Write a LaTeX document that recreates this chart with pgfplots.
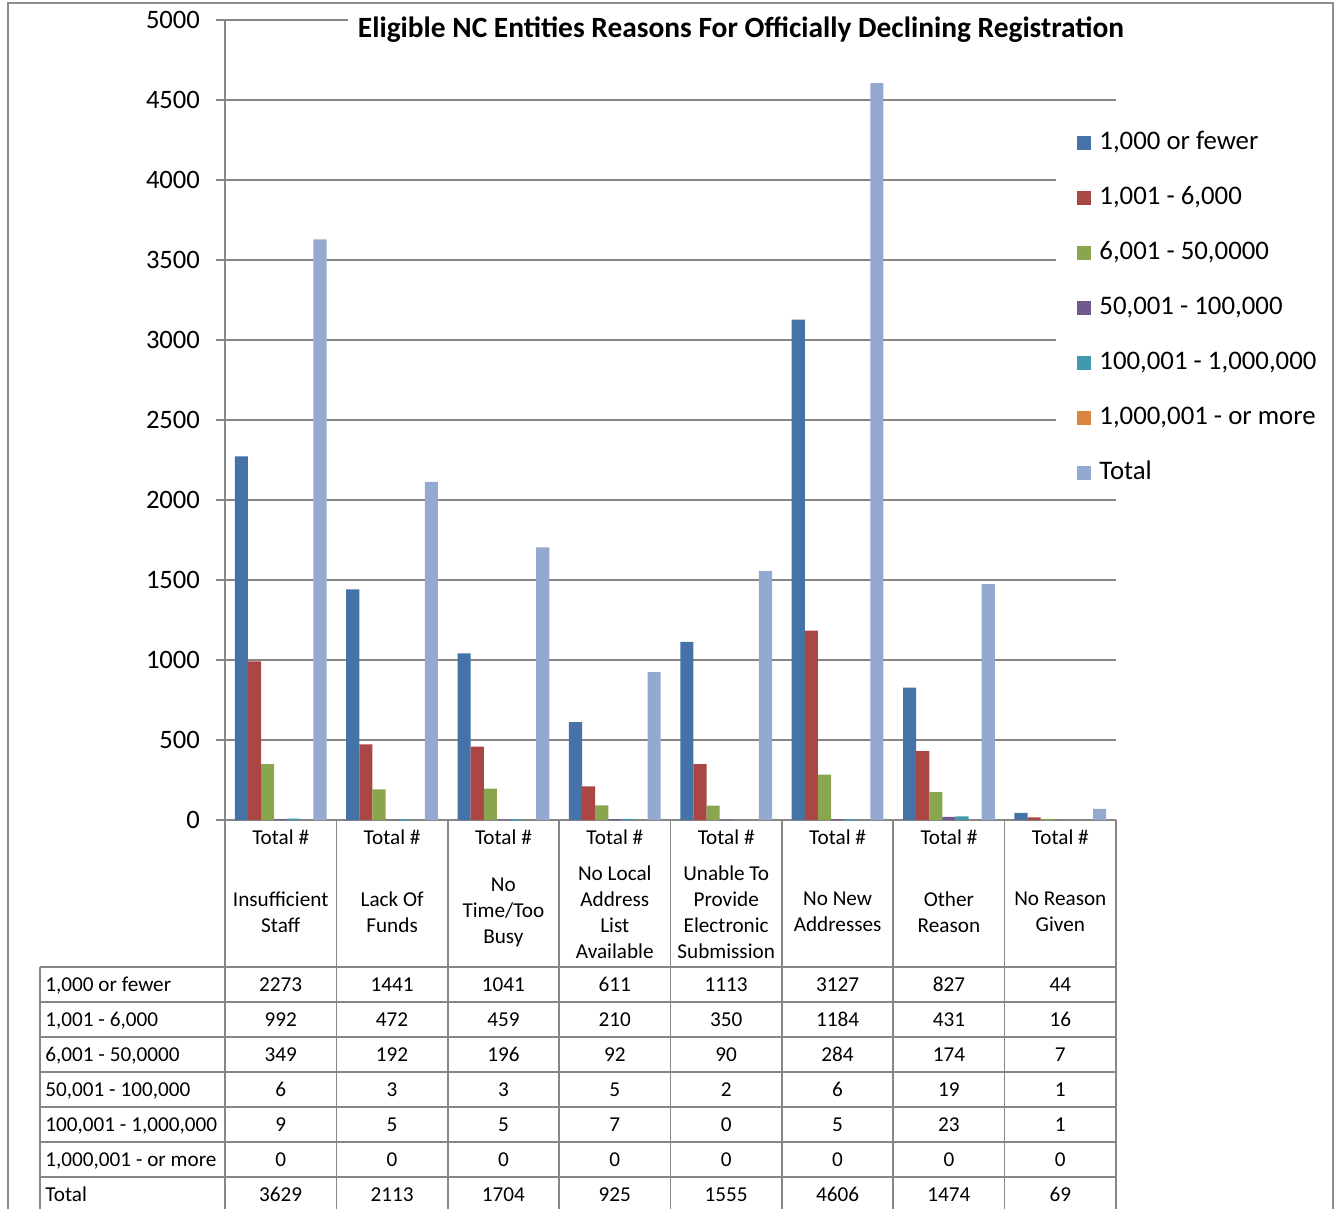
\documentclass[border=0pt]{standalone}
\usepackage{pgfplots}
\pgfplotsset{compat=1.18}
\usepackage{fontspec}
\setmainfont{Carlito}
\definecolor{cA}{HTML}{4572A7}
\definecolor{cB}{HTML}{AA4643}
\definecolor{cC}{HTML}{89A54E}
\definecolor{cD}{HTML}{71588F}
\definecolor{cE}{HTML}{4198AF}
\definecolor{cF}{HTML}{DB843D}
\definecolor{cG}{HTML}{93A9CF}
\definecolor{gridc}{HTML}{868686}
\definecolor{framec}{HTML}{8C8C8C}
\begin{document}
\begin{tikzpicture}
\begin{axis}[
  at={(112.5pt,-410pt)}, anchor=south west,
  scale only axis, width=445.5pt, height=400pt,
  xmin=-0.5, xmax=7.5, ymin=0, ymax=5000,
  ybar=0pt, bar width=6.55pt,
  axis lines*=left, axis line style={gridc, line width=0.75pt, -},
  ytick={0,500,...,5000}, ymajorgrids, grid style={gridc, line width=0.75pt},
  xtick=\empty,
  tick align=outside, major tick length=4.5pt, tick style={gridc, line width=0.75pt},
  /pgf/number format/assume math mode=true,
  scaled y ticks=false,
  yticklabel style={font=\fontsize{13.3}{15}\selectfont, /pgf/number format/1000 sep={}, xshift=-4.5pt},
  clip=false,
  legend style={at={(axis description cs:0.9327,0.879)}, anchor=north west,
    draw=none, fill=white, inner xsep=10.5pt, inner ysep=7pt,
    font=\fontsize{13.4}{15}\selectfont, row sep=15.5pt, column sep=4pt,
    nodes={inner sep=0pt, text height=9pt, text depth=3pt}},
  legend cell align=left,
  legend image code/.code={\fill[#1] (0pt,-3.5pt) rectangle (7pt,3.5pt);},
]
\addplot[fill=cA, draw=none] coordinates {(0,2273) (1,1441) (2,1041) (3,611) (4,1113) (5,3127) (6,827) (7,44)};
\addplot[fill=cB, draw=none] coordinates {(0,992) (1,472) (2,459) (3,210) (4,350) (5,1184) (6,431) (7,16)};
\addplot[fill=cC, draw=none] coordinates {(0,349) (1,192) (2,196) (3,92) (4,90) (5,284) (6,174) (7,7)};
\addplot[fill=cD, draw=none] coordinates {(0,6) (1,3) (2,3) (3,5) (4,2) (5,6) (6,19) (7,1)};
\addplot[fill=cE, draw=none] coordinates {(0,9) (1,5) (2,5) (3,7) (4,0) (5,5) (6,23) (7,1)};
\addplot[fill=cF, draw=none] coordinates {(0,0) (1,0) (2,0) (3,0) (4,0) (5,0) (6,0) (7,0)};
\addplot[fill=cG, draw=none] coordinates {(0,3629) (1,2113) (2,1704) (3,925) (4,1555) (5,4606) (6,1474) (7,69)};
\legend{{1,000 or fewer},{1,001 - 6,000},{6,001 - 50,0000},{50,001 - 100,000},{100,001 - 1,000,000},{1,000,001 - or more},Total}
\end{axis}
\begin{scope}[x=0.5pt,y=-0.5pt]
% title
\node[fill=white, inner xsep=5pt, inner ysep=2pt, font=\bfseries\fontsize{14.7}{17}\selectfont] at (741,30) {Eligible NC Entities Reasons For Officially Declining Registration};
% frame
\draw[framec, line width=0.9pt] (8,1215) -- (8,3) -- (1333,3) -- (1333,1215);
% table lines
\foreach \k in {0,...,8} {\draw[gridc, line width=0.8pt] (225+111.375*\k,820) -- (225+111.375*\k,1215);}
\draw[gridc, line width=0.8pt] (40,967) -- (40,1215);
\foreach \r in {0,...,6} {\draw[gridc, line width=0.8pt] (40,967+35*\r) -- (1116,967+35*\r);}
% category labels
\begin{scope}[every node/.style={font=\fontsize{10.6}{13}\selectfont, align=center, inner sep=0pt}]
\foreach \k in {0,...,7} {\node[anchor=base] at (280.7+111.375*\k,844) {Total \#};}
\node at (280.7,912) {Insufficient\\Staff};
\node at (392.1,912) {Lack Of\\Funds};
\node at (503.4,912) {No\\Time/Too\\Busy};
\node at (614.8,912) {No Local\\Address\\List\\Available};
\node at (726.2,912) {Unable To\\Provide\\Electronic\\Submission};
\node at (837.6,912) {No New\\Addresses};
\node at (948.9,912) {Other\\Reason};
\node at (1060.3,912) {No Reason\\Given};
\foreach \lab/\vals [count=\r from 0] in {
  {1,000 or fewer}/{2273,1441,1041,611,1113,3127,827,44},
  {1,001 - 6,000}/{992,472,459,210,350,1184,431,16},
  {6,001 - 50,0000}/{349,192,196,92,90,284,174,7},
  {50,001 - 100,000}/{6,3,3,5,2,6,19,1},
  {100,001 - 1,000,000}/{9,5,5,7,0,5,23,1},
  {1,000,001 - or more}/{0,0,0,0,0,0,0,0},
  {Total}/{3629,2113,1704,925,1555,4606,1474,69}} {
  \node[anchor=base west] at (45,991+35*\r) {\lab};
  \foreach \v [count=\i from 0] in \vals {\node[anchor=base] at (280.7+111.375*\i,991+35*\r) {\v};}
}
\end{scope}
\end{scope}
\pgfresetboundingbox
\path[x=0.5pt,y=-0.5pt] (0,0) rectangle (1341,1209);
\end{tikzpicture}
\end{document}
